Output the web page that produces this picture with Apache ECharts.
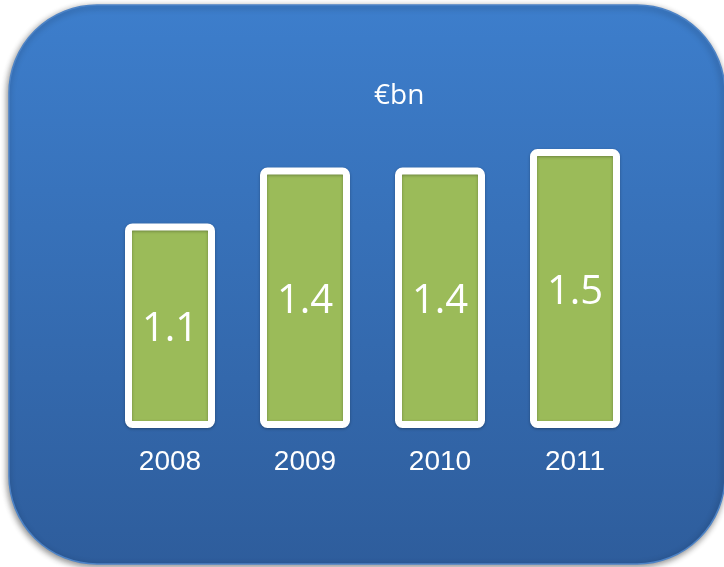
<!DOCTYPE html>
<html>
<head>
<meta charset="utf-8">
<script src="https://cdn.jsdelivr.net/npm/echarts@6/dist/echarts.min.js"></script>
<style>
  html, body { margin: 0; padding: 0; background: #fff; }
  #chart { width: 724px; height: 567px; }
</style>
</head>
<body>
<div id="chart"></div>
<script>
var years = ['2008', '2009', '2010', '2011'];
var values = [1.1, 1.4, 1.4, 1.5];
var unitLabel = '€bn';

var myChart = echarts.init(document.getElementById('chart'));

var option = {
  animation: false,
  backgroundColor: '#ffffff',
  graphic: [{
    type: 'rect',
    z: 0,
    shape: { x: 9, y: 5, width: 716, height: 559, r: 88 },
    style: {
      fill: new echarts.graphic.LinearGradient(0, 0, 0, 1, [
        { offset: 0, color: '#3d7ecc' },
        { offset: 1, color: '#2e5d9c' }
      ]),
      stroke: '#4d83c6',
      lineWidth: 1.5,
      shadowBlur: 6,
      shadowColor: 'rgba(0,0,0,0.45)',
      shadowOffsetX: -1,
      shadowOffsetY: 2
    }
  }],
  title: {
    text: unitLabel,
    left: 369,
    top: 77,
    textStyle: {
      color: '#ffffff',
      fontSize: 28,
      fontWeight: 'normal',
      fontFamily: 'Open Sans'
    }
  },
  grid: { left: 102.5, right: 81.5, top: 56, bottom: 139 },
  xAxis: {
    type: 'category',
    data: years,
    axisLine: { show: false },
    axisTick: { show: false },
    axisLabel: {
      color: '#ffffff',
      fontSize: 28,
      fontFamily: 'Liberation Sans',
      margin: 20
    }
  },
  yAxis: {
    type: 'value',
    min: 0,
    max: 2,
    show: false,
    splitLine: { show: false }
  },
  series: [{
    type: 'bar',
    data: values,
    barWidth: 90,
    itemStyle: {
      color: '#9bbb59',
      borderColor: '#ffffff',
      borderWidth: 7,
      borderRadius: 4,
      shadowBlur: 3,
      shadowColor: 'rgba(0,0,0,0.3)',
      shadowOffsetY: 1
    },
    label: {
      show: true,
      position: 'inside',
      offset: [0, 4],
      color: '#ffffff',
      fontSize: 40,
      fontFamily: 'Open Sans',
      formatter: function (p) { return p.value.toFixed(1); }
    }
  }]
};

myChart.setOption(option);
</script>
</body>
</html>
